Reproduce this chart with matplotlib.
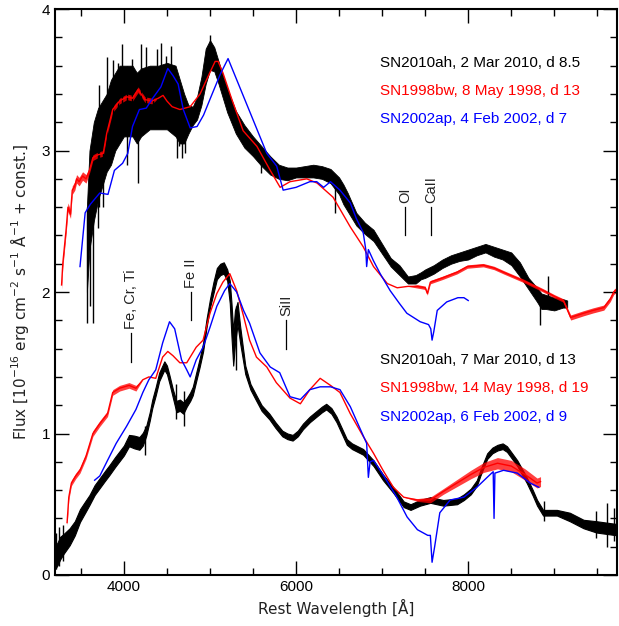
import numpy as np
import matplotlib.pyplot as plt
from matplotlib.ticker import MultipleLocator

plt.rcParams['font.family'] = ['Liberation Sans', 'DejaVu Sans']

# ---- upper set (offset spectra) ----
# SN2010ah, 2 Mar 2010: wavelength, low / high edge of the noisy band
b1_wave = [3570, 3600, 3650, 3700, 3750, 3800, 3850, 3900, 3950, 4000, 4100, 4150, 4200,
           4300, 4400, 4500, 4600, 4650, 4700, 4750, 4800, 4850, 4900, 4950, 5000, 5050,
           5100, 5150, 5200, 5300, 5400, 5500, 5600, 5700, 5800, 5900, 6000, 6100, 6200,
           6300, 6400, 6500, 6550, 6600, 6700, 6800, 6900, 7000, 7100, 7200, 7300, 7390,
           7450, 7500, 7600, 7700, 7800, 7900, 8000, 8100, 8200, 8300, 8400, 8500, 8600,
           8700, 8800, 8850, 8900, 9000, 9100, 9150]
b1_lo = [2.00, 2.30, 2.50, 2.65, 2.75, 2.85, 2.90, 3.00, 3.05, 3.10, 3.10, 3.05, 3.10,
         3.15, 3.15, 3.15, 3.10, 3.05, 3.05, 3.12, 3.18, 3.22, 3.32, 3.47, 3.57, 3.56,
         3.47, 3.37, 3.27, 3.12, 3.02, 2.96, 2.89, 2.83, 2.80, 2.79, 2.81, 2.81, 2.81,
         2.80, 2.77, 2.69, 2.62, 2.57, 2.47, 2.41, 2.36, 2.27, 2.18, 2.12, 2.06, 2.06,
         2.09, 2.10, 2.13, 2.17, 2.20, 2.22, 2.23, 2.26, 2.28, 2.25, 2.23, 2.19, 2.11,
         2.02, 1.93, 1.88, 1.88, 1.87, 1.89, 1.89]
b1_hi = [2.60, 3.00, 3.20, 3.30, 3.35, 3.40, 3.50, 3.55, 3.60, 3.60, 3.60, 3.55, 3.58,
         3.60, 3.60, 3.62, 3.60, 3.50, 3.40, 3.32, 3.31, 3.38, 3.52, 3.72, 3.78, 3.73,
         3.63, 3.53, 3.44, 3.28, 3.18, 3.10, 3.03, 2.96, 2.90, 2.88, 2.88, 2.89, 2.90,
         2.89, 2.87, 2.81, 2.76, 2.70, 2.56, 2.49, 2.44, 2.34, 2.24, 2.19, 2.11, 2.12,
         2.14, 2.16, 2.19, 2.23, 2.26, 2.28, 2.30, 2.32, 2.34, 2.32, 2.30, 2.28, 2.21,
         2.10, 2.03, 1.99, 1.98, 1.96, 1.95, 1.94]
# single noise spikes: wavelength, bottom, top
b1_spk_wave = [3575, 3604, 3643, 3700, 3712, 3760, 3800, 3870, 3930, 3980, 4035, 4040,
               4093, 4160, 4200, 4256, 4333, 4380, 4430, 4488, 4550, 4620, 4643, 4680,
               4705, 4996, 5597, 6453, 8837, 8930]
b1_spk_lo = [1.78, 1.90, 1.78, 2.45, 2.60, 2.60, 3.00, 3.20, 3.20, 3.20, 3.20, 2.90,
             3.20, 2.77, 3.30, 3.20, 3.20, 3.30, 3.30, 3.17, 3.30, 2.95, 3.03, 2.95,
             2.98, 3.60, 2.84, 2.56, 1.77, 1.90]
b1_spk_hi = [2.60, 2.66, 2.60, 3.20, 3.46, 3.20, 3.66, 3.64, 3.62, 3.75, 3.60, 3.30,
             3.65, 3.30, 3.75, 3.73, 3.50, 3.72, 3.76, 3.67, 3.74, 3.30, 3.40, 3.30,
             3.30, 3.82, 3.00, 2.80, 2.00, 2.11]

# SN1998bw, 8 May 1998
r1_wave = [3276, 3290, 3314, 3330, 3350, 3380, 3400, 3430, 3450, 3480, 3520, 3560, 3600,
           3640, 3700, 3760, 3800, 3870, 3950, 4035, 4100, 4165, 4245, 4325, 4400, 4455,
           4500, 4560, 4650, 4770, 4885, 4975, 5060, 5095, 5150, 5255, 5385, 5545, 5700,
           5815, 5930, 6125, 6245, 6430, 6630, 6780, 6900, 7060, 7175, 7300, 7410, 7500,
           7525, 7560, 7700, 7870, 7990, 8175, 8300, 8410, 8640, 8875, 9000, 9105, 9190,
           9340, 9450, 9575, 9650, 9690, 9730]
r1_flux = [2.05, 2.20, 2.35, 2.45, 2.60, 2.55, 2.72, 2.75, 2.80, 2.78, 2.82, 2.80, 2.86,
           2.95, 2.97, 2.98, 3.12, 3.29, 3.35, 3.38, 3.37, 3.43, 3.36, 3.35, 3.37, 3.39,
           3.35, 3.31, 3.29, 3.31, 3.40, 3.52, 3.63, 3.63, 3.55, 3.36, 3.14, 3.03, 2.86,
           2.74, 2.78, 2.80, 2.77, 2.67, 2.46, 2.32, 2.18, 2.06, 2.03, 2.04, 2.04, 2.03,
           1.99, 2.07, 2.10, 2.14, 2.18, 2.19, 2.17, 2.14, 2.08, 2.01, 1.97, 1.94, 1.82,
           1.85, 1.87, 1.89, 1.95, 2.00, 2.02]
r1_noise = [0.03] * 12 + [0.02] * 12 + [0.0] * 26 + [0.012] * 14 + [0.018] * 7

# SN2002ap, 4 Feb 2002
u1_wave = [3490, 3550, 3610, 3720, 3815, 3890, 3985, 4045, 4100, 4180, 4260, 4335, 4430,
           4510, 4570, 4630, 4690, 4770, 4850, 4925, 5005, 5120, 5210, 5660, 5775, 5850,
           6000, 6160, 6240, 6320, 6400, 6510, 6630, 6700, 6780, 6810, 6820, 6840, 6900,
           6977, 7093, 7200, 7287, 7442, 7539, 7565, 7580, 7600, 7640, 7750, 7880, 7950,
           8000]
u1_flux = [2.18, 2.56, 2.62, 2.70, 2.69, 2.86, 2.91, 2.98, 3.17, 3.29, 3.30, 3.37, 3.45,
           3.58, 3.53, 3.47, 3.29, 3.16, 3.17, 3.25, 3.37, 3.54, 3.65, 2.98, 2.89, 2.72,
           2.74, 2.78, 2.78, 2.74, 2.78, 2.72, 2.63, 2.52, 2.42, 2.30, 2.18, 2.30, 2.22,
           2.13, 2.01, 1.92, 1.85, 1.79, 1.77, 1.74, 1.66, 1.72, 1.87, 1.93, 1.96, 1.96,
           1.94]

# ---- lower set ----
# SN2010ah, 7 Mar 2010: flux and half-width of the noise band
b2_wave = [3200, 3230, 3260, 3300, 3370, 3430, 3490, 3550, 3600, 3660, 3720, 3780, 3830,
           3900, 3950, 4000, 4060, 4120, 4180, 4220, 4260, 4300, 4330, 4370, 4410, 4470,
           4500, 4530, 4570, 4610, 4650, 4690, 4730, 4770, 4800, 4840, 4880, 4920, 4960,
           5000, 5040, 5080, 5120, 5160, 5200, 5230, 5250, 5270, 5290, 5320, 5350, 5410,
           5470, 5530, 5600, 5690, 5760, 5840, 5900, 5960, 6020, 6080, 6160, 6240, 6300,
           6350, 6410, 6470, 6530, 6590, 6650, 6780, 6900, 7010, 7130, 7250, 7330, 7440,
           7560, 7710, 7870, 7950, 8030, 8100, 8140, 8220, 8280, 8340, 8400, 8450, 8570,
           8680, 8750, 8800, 8870, 8950, 9030, 9180, 9340, 9490, 9610, 9730]
b2_flux = [0.12, 0.15, 0.19, 0.22, 0.27, 0.33, 0.42, 0.48, 0.53, 0.60, 0.65, 0.70, 0.74,
           0.80, 0.84, 0.88, 0.95, 0.94, 0.93, 0.96, 1.02, 1.12, 1.21, 1.30, 1.40, 1.48,
           1.45, 1.38, 1.28, 1.19, 1.20, 1.18, 1.22, 1.26, 1.30, 1.40, 1.50, 1.61, 1.78,
           1.92, 2.03, 2.13, 2.16, 2.17, 2.12, 2.00, 1.80, 1.60, 1.75, 1.85, 1.70, 1.45,
           1.33, 1.26, 1.18, 1.12, 1.06, 1.00, 0.98, 0.97, 1.00, 1.05, 1.10, 1.14, 1.17,
           1.19, 1.16, 1.10, 1.02, 0.94, 0.91, 0.87, 0.79, 0.69, 0.60, 0.50, 0.48, 0.51,
           0.53, 0.51, 0.52, 0.55, 0.59, 0.65, 0.72, 0.84, 0.88, 0.90, 0.91, 0.89, 0.79,
           0.67, 0.58, 0.51, 0.44, 0.44, 0.44, 0.41, 0.36, 0.34, 0.33, 0.32]
b2_noise = [0.08, 0.08, 0.08, 0.07, 0.06, 0.05, 0.045, 0.04, 0.035, 0.035, 0.035, 0.035,
            0.035, 0.035, 0.035, 0.035, 0.04, 0.045, 0.045, 0.045, 0.035, 0.03, 0.03, 0.03,
            0.03, 0.03, 0.03, 0.03, 0.03, 0.04, 0.04, 0.04, 0.03, 0.03, 0.03, 0.03, 0.03,
            0.03, 0.03, 0.03, 0.04, 0.04, 0.04, 0.04, 0.04, 0.08, 0.12, 0.12, 0.12, 0.08,
            0.06, 0.03, 0.02, 0.02, 0.02, 0.02, 0.02, 0.02, 0.02, 0.02, 0.02, 0.02, 0.02,
            0.02, 0.02, 0.02, 0.02, 0.02, 0.02, 0.02, 0.02, 0.02, 0.02, 0.02, 0.02, 0.02,
            0.02, 0.02, 0.02, 0.02, 0.02, 0.02, 0.02, 0.02, 0.02, 0.02, 0.02, 0.02, 0.02,
            0.02, 0.02, 0.02, 0.02, 0.02, 0.02, 0.02, 0.02, 0.03, 0.03, 0.04, 0.04, 0.04]
b2_spk_wave = [3212, 3250, 3290, 4250, 4600, 4700, 5300, 8880, 9480, 9616, 9690]
b2_spk_lo = [0.04, 0.06, 0.10, 0.85, 1.10, 1.05, 1.45, 0.38, 0.26, 0.20, 0.24]
b2_spk_hi = [0.30, 0.34, 0.35, 1.05, 1.35, 1.30, 1.90, 0.52, 0.45, 0.51, 0.47]

# SN1998bw, 14 May 1998
r2_wave = [3340, 3360, 3390, 3440, 3490, 3560, 3640, 3720, 3810, 3870, 3950, 4060, 4140,
           4220, 4290, 4370, 4450, 4510, 4570, 4650, 4730, 4840, 4920, 5000, 5080, 5150,
           5230, 5310, 5390, 5460, 5540, 5660, 5770, 5930, 6050, 6160, 6280, 6400, 6510,
           6630, 6780, 6900, 7010, 7130, 7250, 7410, 7560, 7710, 7870, 8030, 8180, 8340,
           8500, 8660, 8800, 8840]
r2_flux = [0.37, 0.55, 0.65, 0.70, 0.74, 0.84, 1.00, 1.07, 1.14, 1.29, 1.32, 1.34, 1.32,
           1.38, 1.40, 1.39, 1.54, 1.58, 1.55, 1.50, 1.50, 1.61, 1.66, 1.85, 1.99, 2.07,
           2.13, 2.01, 1.83, 1.66, 1.54, 1.47, 1.36, 1.25, 1.21, 1.31, 1.39, 1.34, 1.29,
           1.14, 0.98, 0.86, 0.74, 0.62, 0.55, 0.53, 0.53, 0.59, 0.65, 0.71, 0.76, 0.79,
           0.77, 0.71, 0.65, 0.66]
# fringing amplitude in the red part
r2_noise = [0.02] * 13 + [0.0] * 32 + [0.01, 0.02, 0.02, 0.025, 0.03, 0.035, 0.04,
                                       0.04, 0.04, 0.035, 0.035]

# SN2002ap, 6 Feb 2002
u2_wave = [3660, 3720, 3810, 3910, 4030, 4140, 4220, 4290, 4370, 4450, 4530, 4590, 4670,
           4730, 4770, 4840, 4920, 5000, 5080, 5170, 5230, 5310, 5390, 5460, 5580, 5700,
           5810, 5930, 6050, 6160, 6280, 6400, 6510, 6630, 6820, 6840, 6860, 6900, 7050,
           7170, 7290, 7410, 7530, 7560, 7580, 7610, 7670, 7790, 7950, 8100, 8220, 8290,
           8300, 8310, 8410, 8570, 8720, 8820]
u2_flux = [0.67, 0.70, 0.81, 0.93, 1.05, 1.17, 1.29, 1.38, 1.45, 1.64, 1.79, 1.74, 1.52,
           1.45, 1.40, 1.52, 1.61, 1.75, 1.90, 2.01, 2.06, 2.00, 1.87, 1.78, 1.57, 1.47,
           1.43, 1.26, 1.24, 1.31, 1.33, 1.33, 1.31, 1.19, 0.93, 0.69, 0.80, 0.81, 0.67,
           0.55, 0.41, 0.32, 0.28, 0.28, 0.09, 0.20, 0.44, 0.53, 0.55, 0.62, 0.69, 0.73,
           0.40, 0.72, 0.74, 0.72, 0.65, 0.62]

# line identifications: label, wavelength, bottom / top of marker
lines = [("Fe, Cr, Ti", 4080, 1.505, 1.71),
         ("Fe II", 4779, 1.80, 2.00),
         ("SiII", 5884, 1.60, 1.80),
         ("OI", 7267, 2.40, 2.60),
         ("CaII", 7566, 2.40, 2.60)]

labels_top = ["SN2010ah, 2 Mar 2010, d 8.5", "SN1998bw, 8 May 1998, d 13",
              "SN2002ap, 4 Feb 2002, d 7"]
labels_bot = ["SN2010ah, 7 Mar 2010, d 13", "SN1998bw, 14 May 1998, d 19",
              "SN2002ap, 6 Feb 2002, d 9"]
colors = ["black", "#ff0000", "#0000ff"]

fig = plt.figure(figsize=(6.19, 6.26), dpi=100)
ax = fig.add_axes([0.0889, 0.0815, 0.9081, 0.904])

# upper set
ax.fill_between(b1_wave, b1_lo, b1_hi, color="black", lw=0.6)
ax.vlines(b1_spk_wave, b1_spk_lo, b1_spk_hi, color="black", lw=1.0)
r1 = np.array(r1_flux)
r1n = np.array(r1_noise)
ax.fill_between(r1_wave, r1 - r1n, r1 + r1n, color=colors[1], lw=0, alpha=0.8)
ax.plot(r1_wave, r1_flux, color=colors[1], lw=1.0)
ax.plot(u1_wave, u1_flux, color=colors[2], lw=1.0)

# lower set
b2 = np.array(b2_flux)
bn = np.array(b2_noise)
ax.fill_between(b2_wave, b2 - bn, b2 + bn, color="black", lw=0.8)
ax.vlines(b2_spk_wave, b2_spk_lo, b2_spk_hi, color="black", lw=1.0)
r2 = np.array(r2_flux)
rn = np.array(r2_noise)
ax.fill_between(r2_wave, r2 - rn, r2 + rn, color=colors[1], lw=0, alpha=0.75)
ax.plot(r2_wave, r2_flux, color=colors[1], lw=1.0)
ax.plot(u2_wave, u2_flux, color=colors[2], lw=1.0)

for name, w, y0, y1 in lines:
    ax.plot([w, w], [y0, y1], color="black", lw=0.9)
    ax.text(w, y1 + 0.03, name, rotation=90, ha="center", va="bottom",
            fontsize=10.5, color="#222222")

for i, (t, c) in enumerate(zip(labels_top, colors)):
    ax.text(6977, 3.62 - i * 0.2, t, color=c, fontsize=11, va="center")
for i, (t, c) in enumerate(zip(labels_bot, colors)):
    ax.text(6977, 1.52 - i * 0.2, t, color=c, fontsize=11, va="center")

ax.set_xlim(3200, 9730)
ax.set_ylim(0, 4)
ax.xaxis.set_major_locator(MultipleLocator(2000))
ax.xaxis.set_minor_locator(MultipleLocator(500))
ax.yaxis.set_major_locator(MultipleLocator(1))
ax.yaxis.set_minor_locator(MultipleLocator(0.2))
ax.tick_params(which="both", direction="in", top=True, right=True, labelsize=11)
ax.tick_params(which="major", length=10, width=1)
ax.tick_params(which="minor", length=5, width=1)
for s in ax.spines.values():
    s.set_linewidth(1.5)

ax.set_xlabel("Rest Wavelength [Å]", fontsize=11, color="#222222",
              family="DejaVu Sans")
ax.set_ylabel("Flux [10$^{-16}$ erg cm$^{-2}$ s$^{-1}$ Å$^{-1}$ + const.]",
              fontsize=11, color="#222222", family="DejaVu Sans", labelpad=8)

fig.savefig("out.png", dpi=100)
